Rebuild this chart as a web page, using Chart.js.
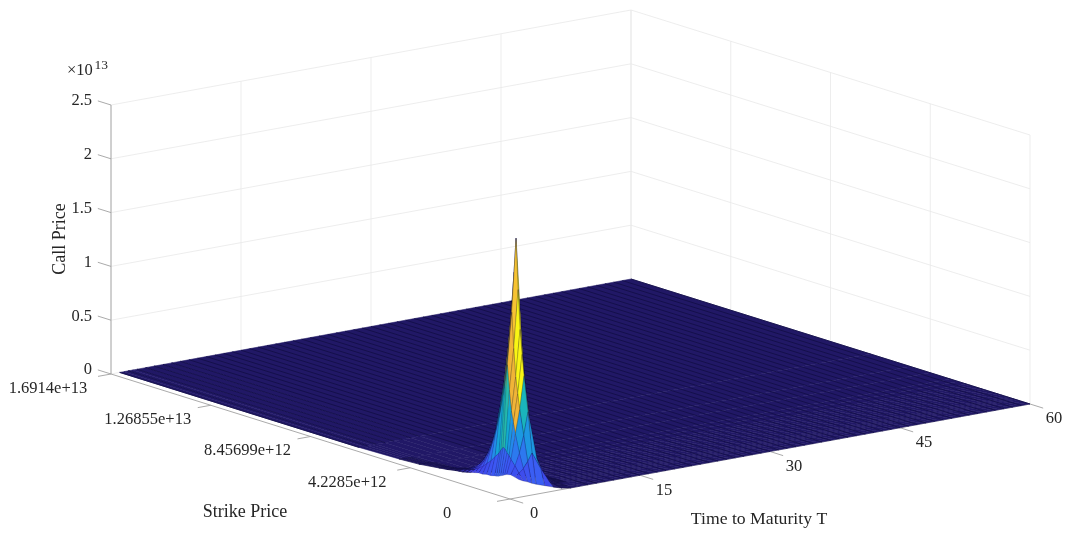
<!DOCTYPE html>
<html>
<head>
<meta charset="utf-8">
<title>Call Price surface</title>
<script src="https://cdn.jsdelivr.net/npm/chart.js@4"></script>
<style>
  html, body { margin: 0; padding: 0; background: #ffffff; }
  canvas { display: block; }
</style>
</head>
<body>
<canvas id="surface" width="1066" height="534"></canvas>
<script>
// axis ticks
const maturityTicks = [0, 15, 30, 45, 60];
const strikeTicks = [0, 4.2285e12, 8.45699e12, 1.26855e13, 1.6914e13];
const strikeTickLabels = ['0', '4.2285e+12', '8.45699e+12', '1.26855e+13', '1.6914e+13'];
const priceTicks = [0, 0.5, 1, 1.5, 2, 2.5];
const priceTickLabels = ['0', '0.5', '1', '1.5', '2', '2.5'];

// all the maturities of the mesh, one line per year
const maturities = [1, 2, 3, 4, 5, 6, 7, 8, 9, 10, 11, 12, 13, 14, 15, 16, 17, 18, 19, 20,
  21, 22, 23, 24, 25, 26, 27, 28, 29, 30, 31, 32, 33, 34, 35, 36, 37, 38, 39, 40,
  41, 42, 43, 44, 45, 46, 47, 48, 49, 50, 51, 52, 53, 54, 55, 56, 57, 58, 59, 60];

// mesh around the spike, everything past it reads as zero
const meshMaturities = [1, 1.5, 2, 2.5, 3, 4, 5, 6, 7, 8, 60];
const meshStrikes = [0, 1.69e11, 3.38e11, 5.07e11, 5.92e11, 6.77e11, 7.61e11, 8.46e11, 9.3e11, 1.015e12,
  1.184e12, 1.353e12, 1.522e12, 1.691e12, 1.861e12, 2.03e12, 2.199e12, 2.368e12, 2.537e12, 2.706e12,
  3.044e12, 3.383e12, 4.229e12, 5.074e12, 6.766e12, 1.6914e13];

// call price in units of 1e13, one array per maturity, same order as meshStrikes
const priceT1 = [.167, .177, .186, .177, .168, .158, .148, .139, .134, .130, .121, .121, .111, .111, .102, .093, .084, .074, .070, .065, .051, .042, .019, .009, 0, 0];
const priceT1_5 = [.145, .205, .262, .31, .34, .36, .39, .40, .37, .335, .29, .24, .205, .165, .14, .115, .10, .09, .08, .067, .048, .04, .016, .007, 0, 0];
const priceT2 = [.130, .242, .372, .539, .64, .743, .93, 1.161, 1.0, .864, .650, .483, .353, .251, .186, .139, .111, .093, .074, .065, .046, .037, .014, .005, 0, 0];
const priceT2_5 = [.11, .30, .53, .76, .90, 1.05, 1.31, 1.64, 1.41, 1.22, .92, .68, .50, .34, .26, .19, .14, .104, .083, .055, .03, .018, .008, .002, 0, 0];
const priceT3 = [.093, .372, .743, 1.068, 1.26, 1.486, 1.85, 2.322, 2.0, 1.728, 1.291, .957, .715, .465, .353, .251, .177, .121, .074, .046, .019, .009, .005, 0, 0, 0];
const priceT4 = [.065, .214, .297, .390, .48, .576, .70, .855, .735, .632, .465, .344, .251, .167, .121, .084, .056, .037, .019, .009, .005, 0, 0, 0, 0, 0];
const priceT5 = [.037, .074, .102, .139, .17, .204, .25, .307, .262, .223, .167, .121, .084, .056, .037, .028, .019, .009, .005, 0, 0, 0, 0, 0, 0, 0];
const priceT6 = [.014, .019, .028, .037, .05, .065, .077, .093, .078, .065, .046, .033, .023, .014, .009, .005, 0, 0, 0, 0, 0, 0, 0, 0, 0, 0];
const priceT7 = [0, .009, .009, .009, .014, .019, .023, .028, .023, .019, .014, .009, .005, 0, 0, 0, 0, 0, 0, 0, 0, 0, 0, 0, 0, 0];
const priceT8 = [0, 0, 0, 0, 0, 0, 0, 0, 0, 0, 0, 0, 0, 0, 0, 0, 0, 0, 0, 0, 0, 0, 0, 0, 0, 0];
const priceT60 = [0, 0, 0, 0, 0, 0, 0, 0, 0, 0, 0, 0, 0, 0, 0, 0, 0, 0, 0, 0, 0, 0, 0, 0, 0, 0];
const callPrice = [priceT1, priceT1_5, priceT2, priceT2_5, priceT3, priceT4, priceT5, priceT6, priceT7, priceT8, priceT60];

const tMax = 60, kMax = 1.6914e13, zMax = 2.5, zTop = 2.322;

// MATLAB style orthographic view, page coordinates of the axes box
function project(t, k, z) {
  const a = t / tMax, b = k / kMax, c = z / zMax;
  return { x: 510 + 520 * a - 399 * b, y: 499 - 95 * a - 125 * b - 269 * c };
}

// parula-ish, the low end is darkened by the very dense mesh lines
const parula = [
  [0, 33, 24, 102], [.03, 33, 24, 102], [.05, 64, 62, 228], [.15, 60, 90, 245], [.28, 35, 140, 235],
  [.42, 15, 175, 205], [.55, 50, 190, 150], [.68, 150, 195, 80], [.8, 240, 180, 55], [.9, 253, 210, 45], [1, 249, 245, 20]
];
function colorFor(z) {
  const v = Math.min(1, z / zTop);
  for (let i = 1; i < parula.length; i++) {
    if (v <= parula[i][0]) {
      const p = parula[i - 1], q = parula[i], f = (v - p[0]) / (q[0] - p[0]);
      return 'rgb(' + [1, 2, 3].map(n => Math.round(p[n] + (q[n] - p[n]) * f)).join(',') + ')';
    }
  }
  return 'rgb(249,245,20)';
}

// flat shading: which height a cell takes its colour from
function cellHeight(t0, k0, zLow0, zLow1, top) {
  const low = Math.max(zLow0, zLow1);
  if (t0 === 2) {
    if (k0 < 5.07e11) return top;
    if (k0 < 8.46e11) return 0.8 * zTop;
    return low * 1.3;
  }
  if (t0 === 2.5) {
    if (k0 < 5.07e11) return top;
    if (k0 < 7.61e11) return zTop;
    return Math.min(low * 1.4, 0.85 * zTop);
  }
  if (t0 === 3) return low >= 1.2 ? low * 1.6 : low;
  return top;
}

const datasets = [];
function addLine(points, color, width) {
  datasets.push({ data: points, borderColor: color, borderWidth: width, showLine: true, pointRadius: 0, fill: false, tension: 0 });
}

const gridColor = '#e8e8e8', axisColor = '#a0a0a0', meshColor = '#130e48';

// back walls
priceTicks.forEach(z => {
  addLine([project(0, kMax, z), project(tMax, kMax, z), project(tMax, 0, z)], gridColor, 0.8);
});
maturityTicks.forEach(t => addLine([project(t, kMax, 0), project(t, kMax, zMax)], gridColor, 0.8));
strikeTicks.forEach(k => addLine([project(tMax, k, 0), project(tMax, k, zMax)], gridColor, 0.8));

// axes and tick marks
addLine([project(0, kMax, 0), project(0, kMax, zMax)], axisColor, 0.9);
addLine([project(0, kMax, 0), project(0, 0, 0), project(tMax, 0, 0)], axisColor, 0.9);
priceTicks.forEach(z => addLine([project(0, kMax, z), project(0, kMax * 1.033, z)], axisColor, 0.9));
strikeTicks.forEach(k => addLine([project(0, k, 0), project(-1.5, k, 0)], axisColor, 0.9));
maturityTicks.forEach(t => addLine([project(t, 0, 0), project(t, -kMax * 0.033, 0)], axisColor, 0.9));

// surface, painted from the back corner to the front one
for (let i = meshMaturities.length - 2; i >= 0; i--) {
  for (let j = meshStrikes.length - 2; j >= 0; j--) {
    const t0 = meshMaturities[i], t1 = meshMaturities[i + 1], k0 = meshStrikes[j], k1 = meshStrikes[j + 1];
    const z00 = callPrice[i][j], z01 = callPrice[i][j + 1], z10 = callPrice[i + 1][j], z11 = callPrice[i + 1][j + 1];
    const top = Math.max(z00, z01, z10, z11);
    const fillColor = colorFor(cellHeight(t0, k0, z00, z01, top));
    let edge = fillColor, edgeWidth = 0.5;
    if (top > 0.12) { edge = t0 < 2 ? 'rgba(12,10,50,0.3)' : 'rgba(12,10,50,0.45)'; edgeWidth = 0.5; }
    else if (top > 0.012) { edge = meshColor; edgeWidth = 0.7; }
    datasets.push({
      data: [project(t0, k0, z00), project(t1, k0, z10), project(t1, k1, z11), project(t0, k1, z01), project(t0, k0, z00)],
      backgroundColor: fillColor,
      borderColor: edge,
      borderWidth: edgeWidth,
      showLine: true, pointRadius: 0, fill: 'shape', tension: 0
    });
  }
  if (i === meshMaturities.length - 2) {
    // mesh lines of the flat part behind the spike
    maturities.filter(t => t > 8).forEach(t => {
      addLine([project(t, 0, 0), project(t, kMax, 0)], meshColor, 0.9);
    });
  }
}
// same lines in front of it, only on the flat strikes
maturities.filter(t => t <= 8).forEach(t => {
  addLine([project(t, 6.766e12, 0), project(t, kMax, 0)], meshColor, 0.9);
});
datasets.forEach((d, n) => { d.order = datasets.length - n; });

const textColor = '#262626';
const serif = '"Liberation Serif", serif';

const labelsPlugin = {
  id: 'surfaceLabels',
  afterDraw(chart) {
    const ctx = chart.ctx, sx = chart.scales.x, sy = chart.scales.y;
    const px = p => ({ x: sx.getPixelForValue(p.x), y: sy.getPixelForValue(p.y) });
    const put = (text, x, y, font, align) => {
      ctx.font = font;
      ctx.textAlign = align || 'center';
      ctx.fillText(text, x, y);
    };
    ctx.save();
    ctx.fillStyle = textColor;
    ctx.textBaseline = 'middle';
    const tickFont = '16.5px ' + serif, titleFont = '18px ' + serif;

    priceTicks.forEach((z, n) => {
      const p = px(project(0, kMax, z));
      put(priceTickLabels[n], p.x - 19, p.y - 4, tickFont, 'right');
    });
    strikeTicks.forEach((k, n) => {
      const p = px(project(0, k, 0));
      put(strikeTickLabels[n], p.x - 63, p.y + 14.5, tickFont);
    });
    maturityTicks.forEach(t => {
      const p = px(project(t, 0, 0));
      put(String(t), p.x + 24, p.y + 15, tickFont);
    });

    put('Strike Price', 245, 512, titleFont);
    put('Time to Maturity T', 759, 519, '17.7px ' + serif);

    ctx.save();
    ctx.translate(60, 239);
    ctx.rotate(-Math.PI / 2);
    put('Call Price', 0, 0, titleFont);
    ctx.restore();

    put('\u00d710', 67, 71, tickFont, 'left');
    put('13', 94.5, 65, '13.5px ' + serif, 'left');
    ctx.restore();
  }
};

new Chart(document.getElementById('surface').getContext('2d'), {
  type: 'scatter',
  data: { datasets: datasets },
  options: {
    responsive: false,
    animation: false,
    events: [],
    layout: { padding: 0 },
    plugins: { legend: { display: false }, tooltip: { enabled: false } },
    scales: {
      x: { type: 'linear', min: 0, max: 1066, display: false },
      y: { type: 'linear', min: 0, max: 534, reverse: true, display: false }
    }
  },
  plugins: [labelsPlugin]
});
</script>
</body>
</html>
